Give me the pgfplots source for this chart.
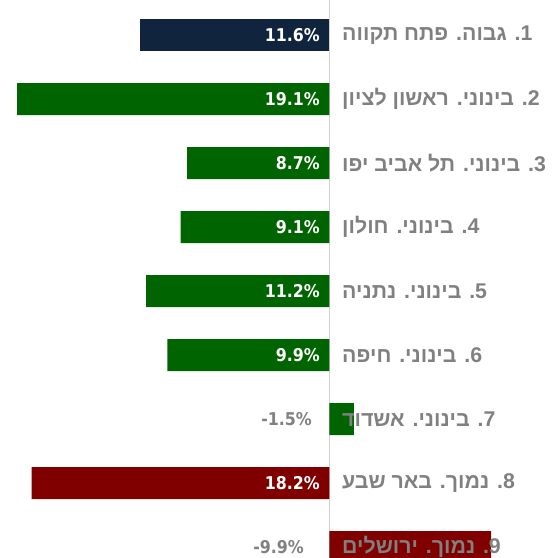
\documentclass[border=0pt]{standalone}
\usepackage{pgfplots}
\pgfplotsset{compat=1.18}
\usepackage{fontspec}
\setmainfont{Liberation Sans}
\newfontfamily\hebfont[Script=Hebrew]{Liberation Sans}
\newfontfamily\numfont{DejaVu Sans Condensed}
\TeXXeTstate=1
\definecolor{navy}{HTML}{10243E}
\definecolor{dgreen}{HTML}{006400}
\definecolor{dred}{HTML}{800000}
\definecolor{lblgray}{HTML}{808080}
\definecolor{axgray}{HTML}{D0D0D0}

\begin{document}
\begin{tikzpicture}
\useasboundingbox (0,0) rectangle (556pt,558pt);
\begin{axis}[
  at={(0,0)}, anchor=south west,
  scale only axis, width=556pt, height=558pt,
  hide axis, clip=false,
  x dir=reverse, y dir=reverse,
  xmin=-13.86, xmax=20.14,
  ymin=0.453, ymax=9.172,
  xbar, bar width=0.5, bar shift=0pt,
  valnum/.style={nodes near coords, point meta=explicit symbolic, draw=none, fill=none,
    nodes near coords style={anchor=east, inner sep=0pt,
      font=\numfont\bfseries\fontsize{17.6}{17.6}\selectfont}},
]
\draw[axgray, line width=1.3pt] (axis cs:0,0.453) -- (axis cs:0,9.172);

\addplot[fill=navy, draw=none] coordinates {(11.6,1)};
\addplot[fill=dgreen, draw=none] coordinates {(19.1,2) (8.7,3) (9.1,4) (11.2,5) (9.9,6) (-1.5,7)};
\addplot[fill=dred, draw=none] coordinates {(18.2,8) (-9.9,9)};

% value labels
\addplot[valnum, nodes near coords style={white, xshift=-9.3pt}] coordinates {
  (0,1) [11.6\%] (0,2) [19.1\%] (0,3) [8.7\%] (0,4) [9.1\%]
  (0,5) [11.2\%] (0,6) [9.9\%] (0,8) [18.2\%]};
\addplot[valnum, nodes near coords style={lblgray, xshift=-17.3pt}] coordinates {(0,7) [-1.5\%]};
\addplot[valnum, nodes near coords style={lblgray, xshift=-25.3pt}] coordinates {(0,9) [-9.9\%]};

% category labels
\addplot[nodes near coords, point meta=explicit symbolic, draw=none, fill=none,
  nodes near coords style={anchor=west, inner sep=0pt, lblgray, xshift=12.7pt,
    font=\hebfont\bfseries\fontsize{21.3}{21.3}\selectfont}] coordinates {
  (0,1) [\beginR 1. גבוה. פתח תקווה\endR]
  (0,2) [\beginR 2. בינוני. ראשון לציון\endR]
  (0,3) [\beginR 3. בינוני. תל אביב יפו\endR]
  (0,4) [\beginR 4. בינוני. חולון\endR]
  (0,5) [\beginR 5. בינוני. נתניה\endR]
  (0,6) [\beginR 6. בינוני. חיפה\endR]
  (0,7) [\beginR 7. בינוני. אשדוד\endR]
  (0,8) [\beginR 8. נמוך. באר שבע\endR]
  (0,9) [\beginR 9. נמוך. ירושלים\endR]};
\end{axis}
\end{tikzpicture}
\end{document}
